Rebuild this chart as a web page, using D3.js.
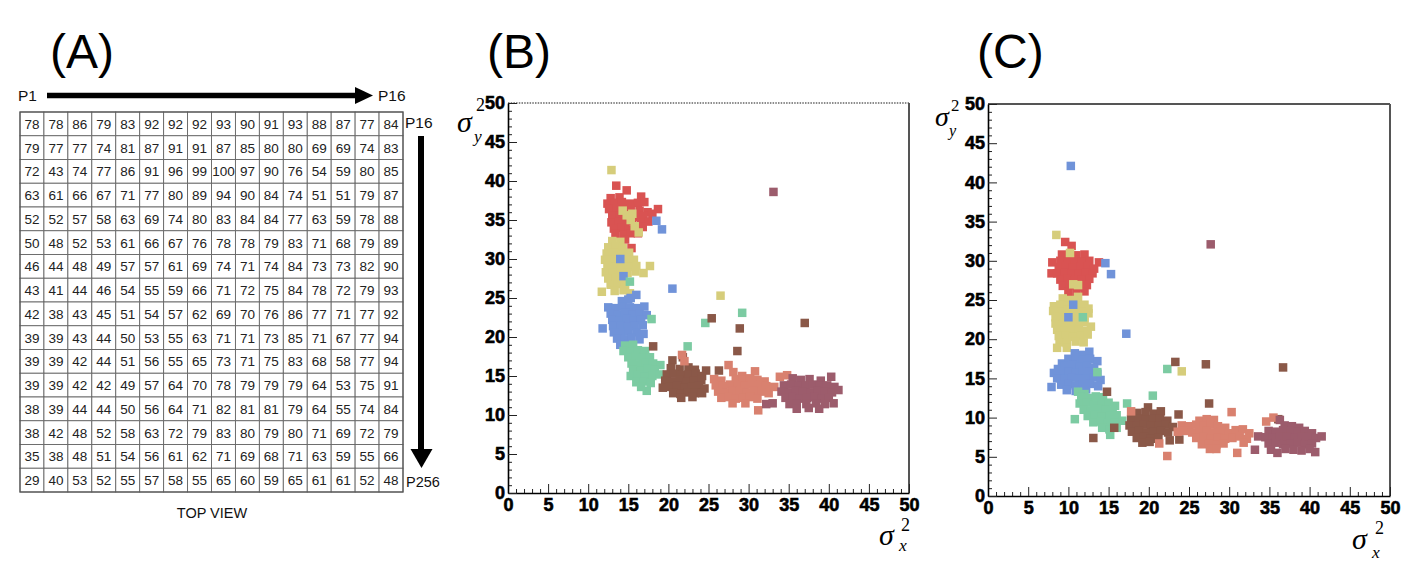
<!DOCTYPE html>
<html><head><meta charset="utf-8">
<script src="https://cdn.jsdelivr.net/npm/d3@7/dist/d3.min.js"></script>
<style>
html,body{margin:0;padding:0;background:#fff;}
svg{display:block;}
.tl{font-family:'Liberation Sans',Arial,Helvetica,sans-serif;font-weight:bold;font-size:18px;}
</style></head>
<body>
<svg id="c" width="1402" height="566"></svg>
<script>
// ---------- DATA ----------
const gridValues = [
[78,78,86,79,83,92,92,92,93,90,91,93,88,87,77,84],
[79,77,77,74,81,87,91,91,87,85,80,80,69,69,74,83],
[72,43,74,77,86,91,96,99,100,97,90,76,54,59,80,85],
[63,61,66,67,71,77,80,89,94,90,84,74,51,51,79,87],
[52,52,57,58,63,69,74,80,83,84,84,77,63,59,78,88],
[50,48,52,53,61,66,67,76,78,78,79,83,71,68,79,89],
[46,44,48,49,57,57,61,69,74,71,74,84,73,73,82,90],
[43,41,44,46,54,55,59,66,71,72,75,84,78,72,79,93],
[42,38,43,45,51,54,57,62,69,70,76,86,77,71,77,92],
[39,39,43,44,50,53,55,63,71,71,73,85,71,67,77,94],
[39,39,42,44,51,56,55,65,73,71,75,83,68,58,77,94],
[39,39,42,42,49,57,64,70,78,79,79,79,64,53,75,91],
[38,39,44,44,50,56,64,71,82,81,81,79,64,55,74,84],
[38,42,48,52,58,63,72,79,83,80,79,80,71,69,72,79],
[35,38,48,51,54,56,61,62,71,69,68,71,63,59,55,66],
[29,40,53,52,55,57,58,55,65,60,59,65,61,61,52,48]
];
const panelLabels = ["(A)","(B)","(C)"];
const axisTicks = [0,5,10,15,20,25,30,35,40,45,50];
const seriesNames = ["red","yellow","blue","green","brown","salmon","mauve"];
const seriesColors = ["#d95352","#d6cd7b","#7093d9","#7ccba2","#8a5848","#d9816f","#9c5c6c"];

// Panel B points [sigma_x^2, sigma_y^2]
const bRed = [[13.5,39.4],[14.8,38.8],[18.7,36.4],[15.4,31.4],
[12.8,37.8],[13.9,37.9],[16.6,38.0],
[12.4,37.1],[13.3,37.2],[14.2,37.3],[15.2,37.1],[16.2,37.2],[17.0,37.3],
[12.6,36.4],[13.5,36.5],[14.4,36.3],[15.3,36.5],[16.4,36.2],[17.4,36.0],[18.0,35.8],
[13.0,35.6],[13.9,35.5],[14.8,35.7],[16.0,35.4],[16.9,35.5],
[12.9,34.7],[13.8,34.8],[14.6,34.6],[15.5,34.9],[16.6,34.6],[17.5,34.8],
[13.2,33.9],[14.2,34.0],[15.1,33.8],[16.1,33.9],[16.8,34.1],
[13.4,33.2],[14.4,33.1],[15.3,33.3],[16.2,33.3],[14.6,32.5]];
const bYellow = [[14.3,36.2],[14.8,35.6],[15.3,35.0],[15.8,34.2],[16.3,33.4],[15.5,35.8],
[12.9,41.4],[11.7,25.8],[17.7,29.1],[16.9,28.2],[26.5,25.3],
[13.0,32.3],[14.0,32.2],
[12.5,31.5],[13.4,31.6],[14.3,31.4],
[12.3,30.7],[13.2,30.8],[14.2,30.6],[15.1,30.8],
[12.1,29.9],[13.0,29.9],[13.9,29.8],[14.8,30.0],[15.7,29.9],
[12.4,29.1],[13.3,29.0],[14.2,29.2],[15.1,29.0],[16.0,29.1],
[12.2,28.3],[13.1,28.2],[14.0,28.4],[14.9,28.2],[15.9,28.4],
[12.5,27.5],[13.4,27.6],[14.3,27.4],
[12.8,26.7],[13.7,26.8],[14.6,26.6],
[13.3,25.9],[14.4,26.0],[15.2,25.6]];
const bBlue = [[14.0,30.0],[14.4,27.8],[18.5,34.9],[19.2,33.8],[20.5,26.2],[11.8,21.1],[15.0,24.8],
[16.0,25.4],[15.3,25.0],[14.2,24.6],
[12.5,23.8],[13.4,23.7],[14.3,23.9],[15.2,23.8],[16.1,23.7],[17.0,23.9],
[12.8,23.0],[13.7,22.9],[14.6,23.1],[15.5,22.9],[16.4,23.0],[17.3,22.8],
[13.0,22.2],[13.9,22.1],[14.8,22.3],[15.7,22.1],[16.6,22.2],
[13.1,21.4],[14.0,21.5],[14.9,21.3],[15.8,21.4],[16.8,21.5],
[13.2,20.6],[14.1,20.5],[15.0,20.7],[16.0,20.6],[16.9,20.4],
[13.6,19.8],[14.5,19.7],[15.4,19.9],[16.4,19.7],
[14.0,19.0],[15.0,19.1]];
const bGreen = [[15.2,27.1],[17.9,22.3],[22.4,18.8],[24.6,21.8],[29.2,23.1],[17.3,13.1],
[14.6,18.9],[15.6,19.0],
[14.4,18.2],[15.3,18.1],[16.2,18.3],[17.1,18.2],
[15.0,17.4],[15.9,17.5],[16.8,17.3],[17.7,17.4],
[15.4,16.6],[16.3,16.5],[17.2,16.7],[18.1,16.6],[19.0,16.4],
[15.6,15.8],[16.5,15.7],[17.4,15.9],[18.3,15.8],
[15.3,15.0],[16.2,15.1],[17.1,14.9],[18.0,15.0],[18.9,15.2],
[16.0,14.2],[16.9,14.3],[17.8,14.1],[16.6,13.6]];
const bBrown = [[18.1,18.8],[25.4,22.4],[28.9,21.1],[28.6,18.2],[24.7,15.7],[26.3,15.7],[37.0,21.8],[20.5,17.0],[21.8,17.4],
[20.3,16.0],[21.4,15.9],[22.5,16.1],[23.3,15.8],
[19.8,15.2],[20.7,15.3],[21.6,15.1],[22.5,15.2],[23.4,15.3],[24.2,15.0],
[19.6,14.4],[20.5,14.3],[21.4,14.5],[22.3,14.3],[23.2,14.4],[24.1,14.5],
[19.3,13.5],[20.2,13.6],[21.1,13.7],[22.0,13.5],[22.9,13.6],[23.8,13.7],[24.5,13.4],
[20.6,12.8],[21.5,12.7],[22.4,12.9],[23.3,12.8],[24.2,12.8],
[21.6,12.2],[23.0,12.3]];
const bSalmon = [[21.7,17.7],[27.5,16.4],[31.2,10.6],[22.0,16.9],
[28.1,15.5],[30.8,15.6],[29.2,15.0],
[25.7,14.6],[26.6,14.4],[28.4,14.6],[29.3,14.5],[30.2,14.7],[31.1,14.5],[32.0,14.3],
[25.9,13.8],[26.8,13.7],[27.7,13.9],[28.6,13.8],[29.5,13.7],[30.4,13.9],[31.3,13.8],[32.2,13.7],
[26.2,13.0],[27.1,12.9],[28.0,13.1],[28.9,13.0],[29.8,12.9],[30.7,13.1],[31.6,13.0],[32.5,12.8],
[26.6,12.2],[27.5,12.3],[28.4,12.1],[29.3,12.2],[30.2,12.3],[31.1,12.1],
[28.0,11.5],[29.6,11.5],[33.9,14.9],[34.8,15.1],[33.2,13.6]];
const bMauve = [[33.1,38.6],[32.2,11.4],[33.0,11.5],
[35.5,14.7],[36.5,14.5],[37.6,14.6],[39.0,14.4],[40.3,14.9],
[34.4,13.8],[35.3,13.9],[36.2,13.7],[37.1,13.8],[38.0,13.9],[38.9,13.7],[39.8,13.8],[40.7,13.6],
[34.1,13.0],[35.0,12.9],[35.9,13.1],[36.8,13.0],[37.7,12.9],[38.6,13.1],[39.5,13.0],[40.4,12.9],[41.2,13.2],
[34.6,12.2],[35.5,12.3],[36.4,12.1],[37.3,12.2],[38.2,12.3],[39.1,12.1],[40.0,12.2],
[35.1,11.4],[36.0,11.5],[37.2,11.4],[38.4,11.5],[39.5,11.4],[40.6,11.5],
[36.0,10.8],[37.5,10.9],[38.8,10.8]];

// Panel C points
const cRed = [[9.6,32.4],[10.4,31.9],[7.9,28.4],[13.8,29.8],[8.0,29.8],
[9.2,30.8],[10.1,30.6],[11.0,30.7],[12.0,30.8],
[9.0,30.0],[9.9,29.9],[10.8,30.1],[11.7,29.9],[12.6,30.0],
[8.8,29.2],[9.7,29.3],[10.6,29.1],[11.5,29.2],[12.4,29.3],[13.2,29.0],
[8.6,28.4],[9.5,28.5],[10.4,28.3],[11.3,28.4],[12.2,28.5],[13.0,28.4],
[9.0,27.6],[9.9,27.7],[10.8,27.5],[11.7,27.6],[12.6,27.7],
[9.3,26.8],[10.2,26.9],[11.4,26.7],[12.3,26.9],
[10.0,26.0],[11.0,25.9],[12.0,26.1]];
const cYellow = [[10.6,27.0],[11.2,26.9],[10.2,31.0],[8.5,33.3],[11.2,25.4],[24.1,15.9],
[9.3,25.2],[10.2,25.0],[12.0,24.4],
[8.2,24.2],[9.0,24.4],[9.9,24.3],[11.0,24.5],[11.9,24.3],[12.5,23.9],
[8.1,23.6],[9.0,23.5],[9.9,23.7],[10.8,23.6],[11.7,23.5],[12.5,23.3],
[8.4,22.8],[9.3,22.7],[10.2,22.9],[11.1,22.8],[12.0,22.7],
[8.4,22.0],[9.3,21.9],[10.2,22.1],[11.1,22.0],[12.0,22.2],[12.8,21.6],
[8.6,21.2],[9.5,21.1],[10.4,21.3],[11.3,21.2],[12.2,21.1],
[8.8,20.4],[9.7,20.5],[10.6,20.3],[11.5,20.4],[12.4,20.6],
[8.9,19.6],[9.8,19.5],[10.9,19.7],[11.9,19.6],
[8.6,18.9],[9.8,18.9]];
const cBlue = [[10.3,42.1],[14.6,29.7],[15.3,28.3],[17.2,20.7],[10.6,24.4],[10.0,22.8],[7.9,13.9],
[10.8,18.2],[11.8,18.0],[12.6,18.4],
[9.2,16.9],[10.0,17.5],[10.9,17.3],[11.8,17.4],[12.7,17.5],[13.6,17.2],
[8.7,16.2],[9.6,16.6],[10.5,16.7],[11.4,16.5],[12.3,16.6],[13.2,16.4],
[8.2,15.7],[9.1,15.8],[10.0,15.9],[10.9,15.7],[11.8,15.8],[12.7,15.9],[13.6,15.6],
[8.6,15.0],[9.5,14.9],[10.4,15.1],[11.3,15.0],[12.2,14.9],[13.1,15.1],[14.0,14.8],
[9.1,14.2],[10.0,14.3],[10.9,14.1],[11.8,14.2],[12.7,14.3],[13.7,14.0],
[9.8,13.5],[10.9,13.4],[12.2,13.6]];
const cGreen = [[11.8,22.8],[10.8,9.8],[20.5,12.8],[17.3,11.8],[22.3,16.2],[13.6,15.8],
[11.2,13.3],[12.0,13.0],
[11.6,12.6],[12.5,12.5],[13.4,12.7],[14.3,12.6],
[11.4,11.8],[12.3,11.9],[13.2,11.7],[14.1,11.8],[15.0,11.9],[15.8,11.5],
[11.9,11.0],[12.8,10.9],[13.7,11.1],[14.6,11.0],[15.5,10.9],
[12.4,10.2],[13.3,10.3],[14.2,10.1],[15.1,10.2],[16.0,10.3],
[13.1,9.4],[14.0,9.5],[14.9,9.3],[15.8,9.4],[16.7,9.6],
[14.2,8.7],[15.1,8.5],[16.0,8.7],[15.2,7.8]];
const cBrown = [[14.8,13.3],[15.7,8.7],[13.1,7.4],[23.3,17.1],[27.1,16.8],[36.7,16.4],[27.5,11.8],[36.1,9.8],[19.9,11.3],[23.7,10.4],
[18.6,10.6],[19.6,10.7],[20.6,10.5],[21.5,10.8],
[17.8,9.8],[18.7,9.9],[19.6,9.7],[20.5,9.8],[21.4,9.9],[22.3,9.6],
[17.6,9.0],[18.5,8.9],[19.4,9.1],[20.3,9.0],[21.2,8.9],[22.1,9.1],[23.0,8.8],
[17.9,8.2],[18.8,8.3],[19.7,8.1],[20.6,8.2],[21.5,8.3],[22.4,8.1],
[18.5,7.4],[19.4,7.5],[20.3,7.3],[21.2,7.4],[22.6,7.1],[23.8,7.2],
[19.2,6.8],[20.1,6.9]];
const cSalmon = [[22.3,5.1],[31.0,5.5],[30.3,10.7],[21.3,6.7],[17.8,10.8],
[26.3,9.6],[27.2,9.8],[28.1,9.7],
[24.1,9.0],[25.0,8.9],[25.9,9.1],[26.8,9.0],[27.7,9.1],[28.6,8.9],[29.5,8.7],
[23.6,8.2],[24.5,8.3],[25.4,8.1],[26.3,8.2],[27.2,8.3],[28.1,8.1],[29.0,8.2],[29.9,8.0],[30.8,8.4],[31.7,8.5],[32.5,8.0],
[25.9,7.4],[26.8,7.5],[27.7,7.3],[28.6,7.4],[29.5,7.3],[30.4,7.4],[31.3,7.6],[32.2,7.3],
[26.6,6.6],[27.5,6.7],[28.4,6.5],[29.3,6.7],[31.8,6.8],
[27.6,6.0],[28.4,6.0],[34.6,9.5],[35.5,10.0]];
const cMauve = [[27.7,32.1],[33.2,5.9],[40.7,5.6],[36.3,9.7],
[36.9,9.0],[37.8,8.9],[38.7,8.7],
[34.9,8.3],[35.8,8.2],[36.7,8.4],[37.6,8.3],[38.5,8.2],[39.4,8.3],[40.3,8.0],
[33.6,7.6],[34.5,7.5],[35.4,7.4],[36.3,7.6],[37.2,7.5],[38.1,7.4],[39.0,7.6],[39.9,7.5],[40.8,7.4],[41.5,7.6],
[34.9,6.7],[35.8,6.8],[36.7,6.6],[37.6,6.7],[38.5,6.8],[39.4,6.6],[40.3,6.7],
[35.2,5.9],[36.0,5.5],[37.0,6.0],[38.0,5.9],[39.0,5.8],[40.0,6.0]];

const panelB = [bRed,bYellow,bBlue,bGreen,bBrown,bSalmon,bMauve];
const panelC = [cRed,cYellow,cBlue,cGreen,cBrown,cSalmon,cMauve];

// ---------- DRAW ----------
const svg = d3.select("#c");
const sans = "'Liberation Sans', Arial, Helvetica, sans-serif";
const serif = "'Liberation Serif', 'Times New Roman', serif";

// Panel letters
[[50,68],[487,68],[977,68]].forEach((p,i)=>{
  svg.append("text").attr("x",p[0]).attr("y",p[1]).text(panelLabels[i])
    .attr("font-family",sans).attr("font-size",48).attr("fill","#000");
});

// ----- Panel A: grid -----
const gA = svg.append("g");
const colScale = d3.scaleBand().domain(d3.range(16)).range([20,403]);
const rowScale = d3.scaleBand().domain(d3.range(16)).range([112,492]);
gridValues.forEach((row,r)=>{
  row.forEach((v,c)=>{
    gA.append("rect").attr("x",colScale(c)).attr("y",rowScale(r))
      .attr("width",colScale.bandwidth()).attr("height",rowScale.bandwidth())
      .attr("fill","#fff").attr("stroke","#666").attr("stroke-width",0.9);
    gA.append("text").attr("x",colScale(c)+colScale.bandwidth()/2)
      .attr("y",rowScale(r)+rowScale.bandwidth()/2+5)
      .attr("text-anchor","middle").attr("font-family",sans).attr("font-size",13.5)
      .attr("fill","#222").text(v);
  });
});
gA.append("rect").attr("x",20).attr("y",112).attr("width",383).attr("height",380)
  .attr("fill","none").attr("stroke","#555").attr("stroke-width",1.2);
// arrows
gA.append("line").attr("x1",47).attr("x2",358).attr("y1",95.5).attr("y2",95.5)
  .attr("stroke","#000").attr("stroke-width",5.5);
gA.append("path").attr("d","M355,87 L373,95.5 L355,104 Z").attr("fill","#000");
gA.append("line").attr("x1",421).attr("x2",421).attr("y1",136).attr("y2",452)
  .attr("stroke","#000").attr("stroke-width",6);
gA.append("path").attr("d","M410.5,449 L432.5,449 L421.5,468 Z").attr("fill","#000");
const lab = (x,y,t,size,anchor)=>gA.append("text").attr("x",x).attr("y",y).text(t)
  .attr("font-family",sans).attr("font-size",size).attr("fill","#111").attr("text-anchor",anchor||"start");
lab(18,101,"P1",15.5);
lab(378,101,"P16",15.5);
lab(405,128,"P16",15.5);
lab(406,487,"P256",14.5);
lab(212,518,"TOP VIEW",14.5,"middle");

// ----- Scatter panels -----
function sigmaLabel(x,y,sub,size,supDx,supDy,subDx,subDy){
  const g = svg.append("g");
  g.append("text").attr("x",x).attr("y",y).text("σ").attr("font-family",serif)
    .attr("font-style","italic").attr("font-size",size).attr("fill","#000");
  g.append("text").attr("x",x+supDx).attr("y",y+supDy).text("2").attr("font-family",serif)
    .attr("font-size",size*0.6).attr("fill","#000");
  g.append("text").attr("x",x+subDx).attr("y",y+subDy).text(sub).attr("font-family",serif)
    .attr("font-style","italic").attr("font-size",size*0.58).attr("fill","#000");
}

function drawPanel(opt){
  const g = svg.append("g");
  const x = d3.scaleLinear().domain([0,50]).range([opt.l,opt.r]);
  const y = d3.scaleLinear().domain([0,50]).range([opt.b,opt.t]);
  // frame (top/right)
  g.append("line").attr("x1",opt.l).attr("x2",opt.r).attr("y1",opt.t).attr("y2",opt.t)
    .attr("stroke",opt.topColor).attr("stroke-width",opt.topWidth)
    .attr("stroke-dasharray",opt.topDash||null);
  g.append("line").attr("x1",opt.r).attr("x2",opt.r).attr("y1",opt.t).attr("y2",opt.b)
    .attr("stroke","#555").attr("stroke-width",2);
  // points
  opt.series.forEach((pts,i)=>{
    g.append("g").selectAll("rect").data(pts).join("rect")
      .attr("x",d=>x(d[0])-4.25).attr("y",d=>y(d[1])-4.25)
      .attr("width",8.5).attr("height",8.5).attr("fill",seriesColors[i]);
  });
  // minor ticks
  const minor = d3.range(0,51,1).filter(v=>v%5!==0);
  g.append("g").attr("transform",`translate(0,${opt.b})`)
    .call(d3.axisBottom(x).tickValues(minor).tickSize(-4).tickSizeOuter(0).tickFormat(""))
    .call(s=>s.select(".domain").remove());
  g.append("g").attr("transform",`translate(${opt.l},0)`)
    .call(d3.axisLeft(y).tickValues(minor).tickSize(-4).tickSizeOuter(0).tickFormat(""))
    .call(s=>s.select(".domain").remove());
  // major ticks + labels
  const xa = g.append("g").attr("transform",`translate(0,${opt.b})`)
    .call(d3.axisBottom(x).tickValues(axisTicks).tickSize(-9).tickSizeOuter(0).tickPadding(5));
  const ya = g.append("g").attr("transform",`translate(${opt.l},0)`)
    .call(d3.axisLeft(y).tickValues(axisTicks).tickSize(-9).tickSizeOuter(0).tickPadding(3));
  [xa,ya].forEach(a=>{
    a.attr("font-family",null).attr("font-size",null);
    a.selectAll("text").attr("class","tl").attr("fill","#000")
      .attr("stroke","#000").attr("stroke-width",0.6);
    a.select(".domain").attr("stroke","#000").attr("stroke-width",1.6);
  });
  g.selectAll(".tick line").attr("stroke","#222").attr("stroke-width",1);
}

drawPanel({l:508,r:909,t:103,b:493,series:panelB,topColor:"#666",topWidth:1.6,topDash:"1.5,1.2"});
drawPanel({l:988,r:1390,t:104,b:496,series:panelC,topColor:"#555",topWidth:2});

sigmaLabel(457,132,"y",30,19,-21,17,10);
sigmaLabel(879,545,"x",30,22,-14,20,6);
sigmaLabel(935,126,"y",28,16,-15,14,10);
sigmaLabel(1352,549,"x",30,23,-15,20,9);
</script>
</body></html>
